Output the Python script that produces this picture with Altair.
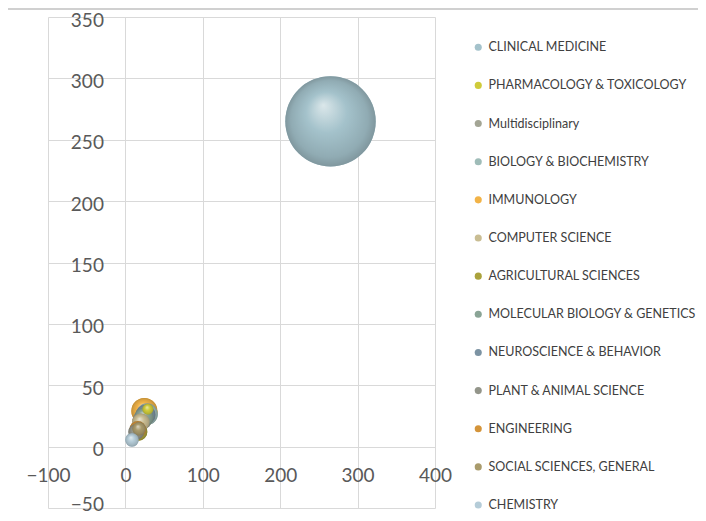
import altair as alt
import pandas as pd

categories = [
    "CLINICAL MEDICINE", "PHARMACOLOGY & TOXICOLOGY", "Multidisciplinary",
    "BIOLOGY & BIOCHEMISTRY", "IMMUNOLOGY", "COMPUTER SCIENCE",
    "AGRICULTURAL SCIENCES", "MOLECULAR BIOLOGY & GENETICS",
    "NEUROSCIENCE & BEHAVIOR", "PLANT & ANIMAL SCIENCE", "ENGINEERING",
    "SOCIAL SCIENCES, GENERAL", "CHEMISTRY",
]
x_vals = [265, 29, 22, 28, 24.5, 20, 17, 24, 26, 14, 16, 17.5, 8.5]
y_vals = [265, 30.5, 22, 26.5, 29, 20, 12, 24, 26, 12, 14, 14.5, 5.5]
sizes = [265, 4, 12, 15, 22, 10, 10, 12, 13, 8, 9, 6, 6]
colors = [
    "#a4c2cb", "#cfcb3a", "#a3a595", "#9fbcb8", "#f2b347", "#c9bd93",
    "#aaa23c", "#8aa496", "#7c93a3", "#93958a", "#d4943a", "#a99b6c",
    "#b5ccd8",
]
x_ticks = [-100, 0, 100, 200, 300, 400]
y_ticks = [-50, 0, 50, 100, 150, 200, 250, 300, 350]

df = pd.DataFrame({"name": categories, "x": x_vals, "y": y_vals, "size": sizes})

W, H = 387, 491


def mix(c, t, a):
    c = c.lstrip("#")
    r, g, b = int(c[0:2], 16), int(c[2:4], 16), int(c[4:6], 16)
    r = round(r + (t[0] - r) * a)
    g = round(g + (t[1] - g) * a)
    b = round(b + (t[2] - b) * a)
    return "#%02x%02x%02x" % (r, g, b)


def grad(c):
    return {
        "gradient": "radial",
        "x1": 0.42, "y1": 0.32, "r1": 0,
        "x2": 0.5, "y2": 0.5, "r2": 0.5,
        "stops": [
            {"offset": 0, "color": mix(c, (255, 255, 255), 0.6)},
            {"offset": 0.45, "color": c},
            {"offset": 0.85, "color": mix(c, (0, 0, 0), 0.12)},
            {"offset": 1, "color": mix(c, (0, 0, 0), 0.22)},
        ],
    }


xs = alt.Scale(domain=[-100, 400], nice=False, zero=False)
ys = alt.Scale(domain=[-50, 350], nice=False, zero=False)
ss = alt.Scale(domain=[0, 265], range=[0, 8171])

x_enc = alt.X("x:Q", scale=xs, title=None,
              axis=alt.Axis(values=x_ticks, offset=-61.4,
                            labelPadding=20, labelFlush=False, labelOverlap=False))
y_enc = alt.Y("y:Q", scale=ys, title=None,
              axis=alt.Axis(values=y_ticks,
                            offset=-77.4, labelPadding=22, labelFlush=False,
                            labelOverlap=False,
                            labelOffset={"condition": {"test": "datum.value == -50",
                                                       "value": -4},
                                         "value": 3}))
s_enc = alt.Size("size:Q", scale=ss, legend=None)

base = alt.Chart(df).mark_circle(opacity=1, strokeWidth=0).encode(
    x=x_enc, y=y_enc, size=s_enc,
    color=alt.Color("name:N", scale=alt.Scale(domain=categories, range=colors),
                    legend=alt.Legend(
                        title=None, orient="none", legendX=424, legendY=24,
                        symbolType="circle", symbolSize=50, symbolOpacity=1,
                        symbolStrokeWidth=0, labelFont="Lato", labelFontSize=12.5,
                        labelColor="#404040", rowPadding=25.15, labelOffset=4,
                        labelLimit=300, padding=0)),
)

order = sorted(range(len(categories)), key=lambda i: -sizes[i])
grads = []
for i in order:
    grads.append(
        alt.Chart(df).transform_filter(alt.datum.name == categories[i])
        .mark_circle(fill=grad(colors[i]), opacity=1, strokeWidth=0)
        .encode(x=x_enc, y=y_enc, size=s_enc)
    )

top_line = alt.Chart(pd.DataFrame({"a": [0]})).mark_rule(
    color="#c0c0c0", strokeWidth=1.5).encode(
    x=alt.value(-40), x2=alt.value(650), y=alt.value(-8))

chart = alt.layer(base, *grads, top_line).properties(
    width=W, height=H,
    padding={"left": 40, "top": 9, "right": 263, "bottom": 5},
    autosize=alt.AutoSizeParams(type="none"),
).configure_view(stroke=None).configure_axis(
    grid=True, gridColor="#d9d9d9", gridWidth=1, domain=False, ticks=False,
    labelFont="Lato", labelFontSize=19, labelColor="#595959",
)

chart.save("out.html", embed_options={"renderer": "svg", "actions": False})
